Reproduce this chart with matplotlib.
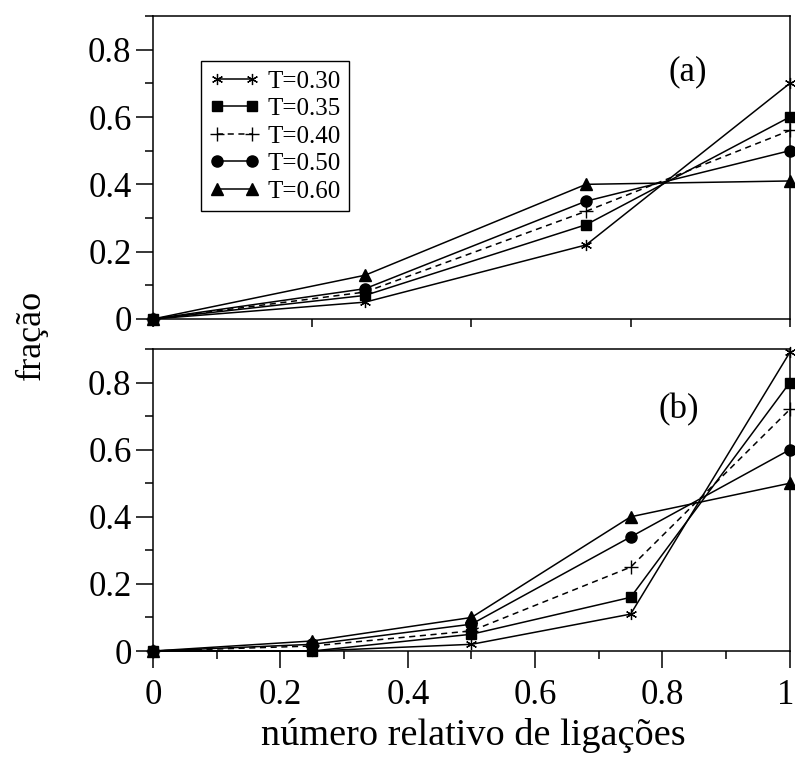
import numpy as np
import matplotlib
matplotlib.use("Agg")
import matplotlib.pyplot as plt
import matplotlib.transforms as mtransforms
from matplotlib.ticker import MultipleLocator

plt.rcParams['font.family'] = ['Liberation Serif', 'DejaVu Serif']

temps = ["T=0.30", "T=0.35", "T=0.40", "T=0.50", "T=0.60"]

# panel (a)
xa = [0, 0.333, 0.68, 1.0]
ya = {
    "T=0.30": [0, 0.05, 0.22, 0.70],
    "T=0.35": [0, 0.07, 0.28, 0.60],
    "T=0.40": [0, 0.08, 0.32, 0.56],
    "T=0.50": [0, 0.09, 0.35, 0.50],
    "T=0.60": [0, 0.13, 0.40, 0.41],
}

# panel (b)
xb = [0, 0.25, 0.5, 0.75, 1.0]
yb = {
    "T=0.30": [0, 0.00, 0.02, 0.11, 0.89],
    "T=0.35": [0, 0.00, 0.05, 0.16, 0.80],
    "T=0.40": [0, 0.015, 0.06, 0.25, 0.72],
    "T=0.50": [0, 0.02, 0.08, 0.34, 0.60],
    "T=0.60": [0, 0.03, 0.10, 0.40, 0.50],
}

styles = {
    "T=0.30": dict(marker=(6, 2, 0), ms=8, ls='-', mew=0.9),
    "T=0.35": dict(marker='s', ms=7.5, ls='-'),
    "T=0.40": dict(marker='+', ms=10, ls=(0, (4, 3)), mew=1.0),
    "T=0.50": dict(marker='o', ms=8, ls='-'),
    "T=0.60": dict(marker='^', ms=8, ls='-'),
}

fig = plt.figure(figsize=(7.95, 7.78), dpi=100)
ax1 = fig.add_axes([0.1925, 0.590, 0.801, 0.3894])
ax2 = fig.add_axes([0.1925, 0.1632, 0.801, 0.3882])

for t in temps:
    ax1.plot(xa, ya[t], color='black', lw=1.1, clip_on=False, label=t, **styles[t])
    ax2.plot(xb, yb[t], color='black', lw=1.1, clip_on=False, label=t, **styles[t])

for ax in (ax1, ax2):
    ax.set_xlim(0, 1)
    ax.set_ylim(0, 0.9)
    ax.yaxis.set_minor_locator(MultipleLocator(0.1))
    ax.set_yticks([0, 0.2, 0.4, 0.6, 0.8])
    ax.set_yticklabels(['0', '0.2', '0.4', '0.6', '0.8'])
    ax.tick_params(axis='both', which='major', direction='out', length=12, width=1.1, labelsize=25)
    ax.tick_params(axis='both', which='minor', direction='out', length=6, width=1.1)
    for s in ax.spines.values():
        s.set_linewidth(1.1)

ax1.set_xticks([0, 0.25, 0.5, 0.75, 1.0])
ax1.set_xticklabels([])
ax1.tick_params(axis='x', which='major', length=6)

ax2.xaxis.set_minor_locator(MultipleLocator(0.1))
ax2.set_xticks([0, 0.2, 0.4, 0.6, 0.8, 1.0])
ax2.set_xticklabels(['0', '0.2', '0.4', '0.6', '0.8', '1'])
ax2.tick_params(axis='x', which='major', pad=8)
# nudge the "1" a little left so it stays inside the figure
last = ax2.get_xticklabels()[-1]
last.set_transform(last.get_transform() + mtransforms.ScaledTranslation(-4 / 100, 0, fig.dpi_scale_trans))

ax1.text(0.84, 0.735, '(a)', fontsize=25, ha='center', va='center')
ax2.text(0.825, 0.72, '(b)', fontsize=25, ha='center', va='center')

leg = ax1.legend(loc='upper left', bbox_to_anchor=(0.075, 0.85), fontsize=18, numpoints=2,
                 handlelength=2.0, handletextpad=0.3, labelspacing=0.2, borderpad=0.35,
                 borderaxespad=0, frameon=True, fancybox=False, edgecolor='black', framealpha=1)
leg.get_frame().set_linewidth(1.0)

fig.text(0.04, 0.57, 'fração', rotation=90, fontsize=26, ha='center', va='center')
fig.text(0.595, 0.055, 'número relativo de ligações', fontsize=27.5, ha='center', va='center')

fig.savefig('out.png', dpi=100)
